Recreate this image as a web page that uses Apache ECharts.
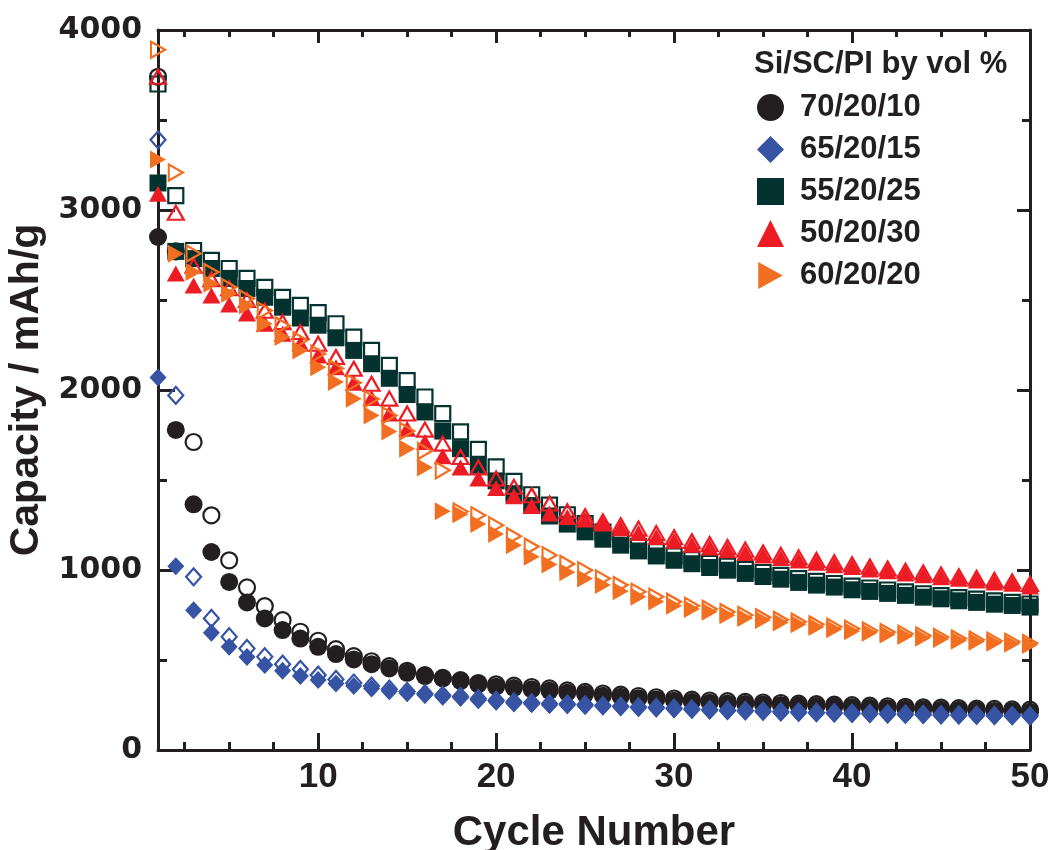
<!DOCTYPE html>
<html>
<head>
<meta charset="utf-8">
<script src="https://cdn.jsdelivr.net/npm/echarts@6/dist/echarts.min.js"></script>
<style>
html,body{margin:0;padding:0;background:#fff;}
#chart{width:1049px;height:850px;}
</style>
</head>
<body>
<div id="chart"></div>
<script>
// ---------- data ----------
const cycles = [1,2,3,4,5,6,7,8,9,10,11,12,13,14,15,16,17,18,19,20,21,22,23,24,25,26,27,28,29,30,31,32,33,34,35,36,37,38,39,40,41,42,43,44,45,46,47,48,49,50];
const legendTitle = 'Si/SC/PI by vol %';
const names = ['70/20/10','65/20/15','55/20/25','50/20/30','60/20/20'];
const xMajorTicks = [10,20,30,40,50];
const xMinorTicks = [2.5,5,7.5,12.5,15,17.5,22.5,25,27.5,32.5,35,37.5,42.5,45,47.5];

// 70/20/10 (filled = discharge, open = charge)
const d70 = [2850,1778,1365,1100,934,820,731,666,619,573,533,503,477,453,429,411,398,383,365,352,345,337,329,318,311,302,296,288,281,274,268,263,259,255,253,250,247,244,241,238,235,232,229,226,224,222,220,217,215,213];
const c70 = [3740,2770,1711,1304,1054,903,799,721,657,607,560,521,493,466,440,416,401,388,372,365,358,350,342,331,323,314,308,300,293,286,280,275,271,267,264,261,258,255,252,249,246,243,240,237,235,233,230,228,226,224];
// 65/20/15
const d65 = [2070,1021,777,651,573,516,472,440,411,389,370,355,342,327,315,305,296,290,277,268,259,255,250,248,244,241,237,233,230,226,222,218,215,213,211,207,205,203,201,199,198,196,194,193,191,190,189,187,186,185];
const c65 = [3390,1970,962,731,629,564,518,477,448,416,392,372,355,338,325,313,304,297,285,276,267,262,257,255,251,247,243,239,236,232,228,224,221,219,216,213,211,209,207,205,203,201,199,198,196,195,194,192,191,190];
// 55/20/25
const d55 = [3150,2770,2730,2675,2620,2564,2515,2460,2400,2360,2290,2220,2146,2065,1975,1878,1772,1674,1582,1495,1424,1358,1300,1255,1212,1171,1138,1106,1078,1054,1035,1014,999,981,964,949,931,916,905,890,881,870,859,849,840,829,820,810,803,794];
const c55 = [3700,3080,2775,2720,2675,2620,2570,2515,2470,2430,2368,2294,2220,2137,2052,1961,1869,1767,1670,1573,1492,1418,1360,1307,1258,1210,1170,1132,1102,1078,1058,1037,1021,1003,986,970,952,937,925,910,900,889,878,868,858,847,838,828,820,811];
// 50/20/30
const d50 = [3090,2647,2580,2525,2475,2425,2368,2313,2257,2192,2127,2040,1955,1869,1785,1711,1632,1569,1508,1455,1410,1355,1314,1295,1280,1258,1232,1206,1184,1162,1140,1125,1110,1095,1080,1067,1053,1040,1027,1016,1003,993,981,971,960,951,942,931,923,908];
const c50 = [3740,2985,2690,2615,2565,2500,2440,2377,2322,2257,2183,2118,2035,1952,1869,1780,1702,1628,1569,1508,1462,1415,1369,1326,1299,1270,1249,1230,1205,1182,1160,1144,1128,1113,1097,1084,1070,1056,1043,1032,1019,1008,996,986,975,965,956,945,937,922];
// 60/20/20
const d60 = [3280,2757,2655,2590,2535,2470,2368,2294,2220,2127,2044,1952,1859,1770,1674,1569,1326,1310,1256,1200,1138,1073,1030,987,953,916,882,851,825,802,784,768,749,734,722,708,699,684,671,660,651,642,633,623,616,607,601,596,590,583];
const c60 = [3890,3208,2758,2655,2571,2508,2442,2359,2276,2201,2120,2040,1950,1859,1772,1661,1554,1325,1304,1249,1188,1130,1082,1034,999,953,916,879,851,823,801,784,766,750,737,723,713,698,685,674,664,655,646,636,628,619,613,607,601,594];

// ---------- styles ----------
const colors = ['#231f20','#3653a4','#04332f','#ed1c24','#f26f21'];
const rightTri = 'path://M0,0L20,11L0,22Z';
const symbols = ['circle','diamond','rect','triangle',rightTri];
const sizes = [18,[17,18],17,[18,16],[16,18]];
const openSizes = [16,[15,17],15,[16,14],[14,16]];
const filled = [d70,d65,d55,d50,d60];
const open = [c70,c65,c55,c50,c60];

const pair = (arr) => cycles.map((c,i)=>[c,arr[i]]);

const series = [];
for (let k=0;k<5;k++){
  series.push({
    name: names[k]+' charge',
    type:'scatter', xAxisIndex:0, yAxisIndex:0,
    symbol: symbols[k], symbolSize: openSizes[k],
    itemStyle:{color:'rgba(255,255,255,0)', borderColor:colors[k], borderWidth:2.2, opacity:1},
    emphasis:{disabled:true},
    data: pair(open[k]), z: 2 + k*2, clip:false
  });
  series.push({
    name: names[k],
    type:'scatter', xAxisIndex:0, yAxisIndex:0,
    symbol: symbols[k], symbolSize: sizes[k],
    itemStyle:{color:colors[k], opacity:1},
    emphasis:{disabled:true},
    data: pair(filled[k]), z: 3 + k*2, clip:false
  });
}

const axisColor = '#231f20';
const lineW = 3;
const sans = "'Liberation Sans',Arial,sans-serif";

const chart = echarts.init(document.getElementById('chart'), null, {renderer:'canvas'});
chart.setOption({
  animation:false,
  backgroundColor:'#ffffff',
  title:{
    text: legendTitle, left: 749, top: 44,
    textStyle:{fontFamily:sans, fontWeight:'bold', fontSize:31, color:axisColor}
  },
  legend:{
    orient:'vertical', left: 752, top: 87,
    itemWidth:27, itemHeight:27, itemGap:11,
    data: names.map((n,k)=>({name:n, icon:symbols[k], itemStyle:{color:colors[k], opacity:1}})),
    selectedMode:false,
    textStyle:{fontFamily:sans, fontWeight:'bold', fontSize:31, color:axisColor, padding:[0,0,0,11]}
  },
  grid:{left:158, right:19, top:30, bottom:100, containLabel:false, outerBoundsMode:'none'},
  xAxis:[
    {type:'value', min:1, max:50, position:'bottom',
     name:'Cycle Number', nameLocation:'middle', nameGap:62,
     nameTextStyle:{fontFamily:sans, fontWeight:'bold', fontSize:42, color:axisColor},
     axisLine:{show:true, lineStyle:{color:axisColor, width:lineW}},
     axisTick:{show:true, inside:true, length:17, customValues:xMajorTicks, lineStyle:{color:axisColor,width:lineW}},
     axisLabel:{show:true, customValues:xMajorTicks, margin:10, fontFamily:sans, fontWeight:'bold', fontSize:35, color:axisColor},
     splitLine:{show:false}},
    {type:'value', min:1, max:50, position:'bottom',
     axisLine:{show:false},
     axisTick:{show:true, inside:true, length:8, customValues:xMinorTicks, lineStyle:{color:axisColor,width:lineW}},
     axisLabel:{show:false}, splitLine:{show:false}},
    {type:'value', min:1, max:50, position:'top',
     axisLine:{show:true, lineStyle:{color:axisColor, width:lineW}},
     axisTick:{show:true, inside:true, length:13, customValues:xMajorTicks, lineStyle:{color:axisColor,width:lineW}},
     axisLabel:{show:false}, splitLine:{show:false}},
    {type:'value', min:1, max:50, position:'top',
     axisLine:{show:false},
     axisTick:{show:true, inside:true, length:7, customValues:xMinorTicks, lineStyle:{color:axisColor,width:lineW}},
     axisLabel:{show:false}, splitLine:{show:false}}
  ],
  yAxis:[
    {type:'value', min:0, max:4000, interval:1000, position:'left',
     name:'Capacity / mAh/g', nameLocation:'middle', nameGap:105, nameRotate:90,
     nameTextStyle:{fontFamily:sans, fontWeight:'bold', fontSize:41, color:axisColor},
     axisLine:{show:true, lineStyle:{color:axisColor, width:lineW}},
     axisTick:{show:true, inside:true, length:17, lineStyle:{color:axisColor,width:lineW}},
     minorTick:{show:true, splitNumber:2, length:9, lineStyle:{color:axisColor,width:lineW}},
     axisLabel:{margin:16, fontFamily:"'DejaVu Sans',sans-serif", fontWeight:'bold', fontSize:30, color:axisColor,
                formatter:(v)=>String(v)},
     splitLine:{show:false}, minorSplitLine:{show:false}},
    {type:'value', min:0, max:4000, interval:1000, position:'right',
     axisLine:{show:true, lineStyle:{color:axisColor, width:lineW}},
     axisTick:{show:true, inside:true, length:13, lineStyle:{color:axisColor,width:lineW}},
     minorTick:{show:true, splitNumber:2, length:8, lineStyle:{color:axisColor,width:lineW}},
     axisLabel:{show:false}, splitLine:{show:false}, minorSplitLine:{show:false}}
  ],
  series: series
});
</script>
</body>
</html>
